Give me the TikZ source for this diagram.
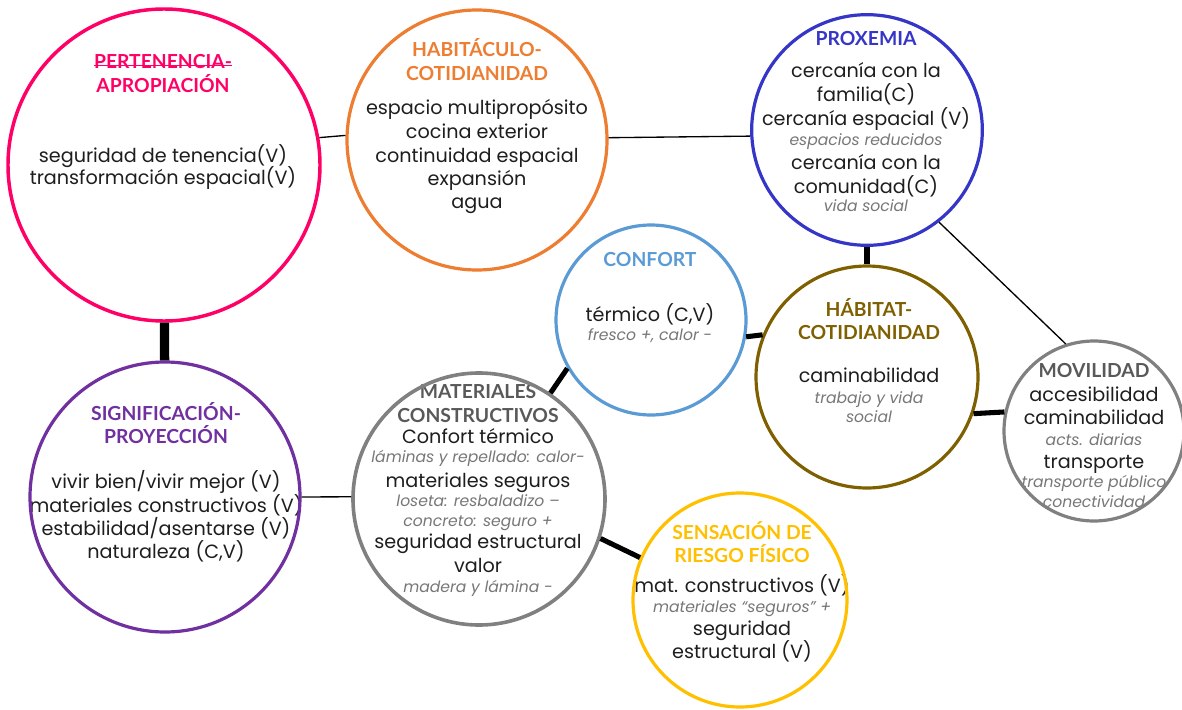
\documentclass[tikz,border=0pt]{standalone}
\usepackage{fontspec}
\setmainfont{Poppins}
\newfontfamily\headfont{Lato}

\definecolor{cpink}{HTML}{FF0066}
\definecolor{corange}{HTML}{ED7D31}
\definecolor{cindigo}{HTML}{3535C8}
\definecolor{csky}{HTML}{5B9BD5}
\definecolor{cbrown}{HTML}{7F6000}
\definecolor{cgrey}{HTML}{808080}
\definecolor{cgreyttl}{HTML}{595959}
\definecolor{camber}{HTML}{FFC000}
\definecolor{cviolet}{HTML}{7030A0}
\definecolor{ink}{HTML}{1E1E1E}
\definecolor{notegrey}{HTML}{777777}

\begin{document}
\begin{tikzpicture}[x=0.75pt,y=-0.75pt,
  bubble/.style={circle, draw, line width=2.4pt, inner sep=0pt, minimum size=#1},
  ttl/.style={anchor=base, inner sep=0pt, font=\headfont\bfseries\fontsize{14.5}{16}\selectfont},
  body/.style={anchor=base, inner sep=0pt, text=ink, font=\fontsize{14.4}{16}\selectfont},
  note/.style={anchor=base, inner sep=0pt, text=notegrey, font=\itshape\fontsize{11.7}{13}\selectfont},
  thinlink/.style={line width=1pt},
  thicklink/.style={line width=3.8pt},
  heavylink/.style={line width=7pt},
]
\fill[white] (0,0) rectangle (1182,710);
\useasboundingbox (0,0) rectangle (1182,710);

% ---- texts ----
% Pertenencia-apropiacion
\node[ttl, text=cpink] (pert-t1) at (163,69) {PERTENENCIA-};
\node[ttl, text=cpink] (pert-t2) at (163,93) {APROPIACIÓN};
\node[body] (pert-b1) at (163,162) {seguridad de tenencia(V)};
\node[body] (pert-b2) at (163,184) {transformación espacial(V)};
\draw[cpink, line width=0.8pt] ([yshift=2.6pt]pert-t1.base west) -- ([yshift=2.6pt]pert-t1.base east);

% Habitaculo-cotidianidad
\node[ttl, text=corange] (hab-t1) at (477,57) {HABITÁCULO-};
\node[ttl, text=corange] (hab-t2) at (477,81) {COTIDIANIDAD};
\node[body] (hab-b1) at (477,114) {espacio multipropósito};
\node[body] (hab-b2) at (477,138) {cocina exterior};
\node[body] (hab-b3) at (477,162) {continuidad espacial};
\node[body] (hab-b4) at (477,185) {expansión};
\node[body] (hab-b5) at (477,208) {agua};

% Proxemia
\node[ttl, text=cindigo] (prox-t1) at (866,46) {PROXEMIA};
\node[body] (prox-b1) at (866,78) {cercanía con la};
\node[body] (prox-b2) at (866,102) {familia(C)};
\node[body] (prox-b3) at (866,125) {cercanía espacial (V)};
\node[note] (prox-n1) at (866,146) {espacios reducidos};
\node[body] (prox-b4) at (866,169) {cercanía con la};
\node[body] (prox-b5) at (866,193) {comunidad(C)};
\node[note] (prox-n2) at (866,211) {vida social};

% Confort
\node[ttl, text=csky] (conf-t1) at (650,266) {CONFORT};
\node[body] (conf-b1) at (650,321) {térmico (C,V)};
\node[note] (conf-n1) at (650,340) {fresco +, calor -};

% Habitat-cotidianidad
\node[ttl, text=cbrown] (habt-t1) at (869,316) {HÁBITAT-};
\node[ttl, text=cbrown] (habt-t2) at (869,339) {COTIDIANIDAD};
\node[body] (habt-b1) at (869,382) {caminabilidad};
\node[note] (habt-n1) at (869,403) {trabajo y vida};
\node[note] (habt-n2) at (869,422) {social};

% Movilidad
\node[ttl, text=cgreyttl] (mov-t1) at (1094,377) {MOVILIDAD};
\node[body] (mov-b1) at (1094,401) {accesibilidad};
\node[body] (mov-b2) at (1094,424) {caminabilidad};
\node[note] (mov-n1) at (1094,445) {acts. diarias};
\node[body] (mov-b3) at (1094,468) {transporte};
\node[note] (mov-n2) at (1094,487) {transporte público};
\node[note] (mov-n3) at (1094,507) {conectividad};

% Materiales constructivos
\node[ttl, text=cgreyttl] (mat-t1) at (478,398) {MATERIALES};
\node[ttl, text=cgreyttl] (mat-t2) at (478,422) {CONSTRUCTIVOS};
\node[body] (mat-b1) at (478,443) {Confort térmico};
\node[note] (mat-n1) at (478,462) {láminas y repellado: calor-};
\node[body] (mat-b2) at (478,487) {materiales seguros};
\node[note] (mat-n2) at (478,506) {loseta: resbaladizo –};
\node[note] (mat-n3) at (478,526) {concreto: seguro +};
\node[body] (mat-b3) at (478,548) {seguridad estructural};
\node[body] (mat-b4) at (478,572) {valor};
\node[note] (mat-n4) at (478,592) {madera y lámina -};

% Sensacion de riesgo fisico
\node[ttl, text=camber] (sens-t1) at (742,539) {SENSACIÓN DE};
\node[ttl, text=camber] (sens-t2) at (742,562) {RIESGO FÍSICO};
\node[body] (sens-b1) at (742,592) {mat. constructivos (V)};
\node[note] (sens-n1) at (742,612) {materiales “seguros” +};
\node[body] (sens-b2) at (742,635) {seguridad};
\node[body] (sens-b3) at (742,658) {estructural (V)};

% Significacion-proyeccion
\node[ttl, text=cviolet] (sig-t1) at (166,420) {SIGNIFICACIÓN-};
\node[ttl, text=cviolet] (sig-t2) at (166,443) {PROYECCIÓN};
\node[body] (sig-b1) at (166,488) {vivir bien/vivir mejor (V)};
\node[body] (sig-b2) at (166,512) {materiales constructivos (V)};
\node[body] (sig-b3) at (166,535) {estabilidad/asentarse (V)};
\node[body] (sig-b4) at (166,558) {naturaleza (C,V)};

% ---- bubbles (diameter = 1.5pt per px of radius) ----
\node[bubble=234pt, draw=cpink, line width=2.6pt] (pert) at (164,165) {};
\node[bubble=195pt, draw=corange] (hab) at (477,140) {};
\node[bubble=173pt, draw=cindigo] (prox) at (867,130) {};
\node[bubble=142.5pt, draw=csky] (conf) at (651,320) {};
\node[bubble=166.5pt, draw=cbrown] (habt) at (867,377) {};
\node[bubble=135pt, draw=cgrey] (mov) at (1094,431) {};
\node[bubble=189pt, draw=cgrey, line width=2.7pt] (mat) at (479,499) {};
\node[bubble=160.5pt, draw=camber] (sens) at (740,600) {};
\node[bubble=202.5pt, draw=cviolet] (sig) at (165,497) {};

% ---- links ----
\draw[thinlink] (pert.10.3) -- (hab.178.7);
\draw[thinlink] (hab.1.3) -- (prox.183.5);
\draw[thicklink] (prox) -- (habt);
\draw[thinlink] (prox.308.5) -- (mov.108.6);
\draw[thicklink] (conf.350.3) -- (habt.158.3);
\draw[thicklink] (habt.341.1) -- (mov.168.5);
\draw[thicklink] (conf.210.6) -- (mat.56.7);
\draw[thicklink] (mat.342) -- (sens.157.3);
\draw[heavylink] (pert) -- (sig);
\draw[thinlink] (sig.0) -- (mat.179);
\end{tikzpicture}
\end{document}
